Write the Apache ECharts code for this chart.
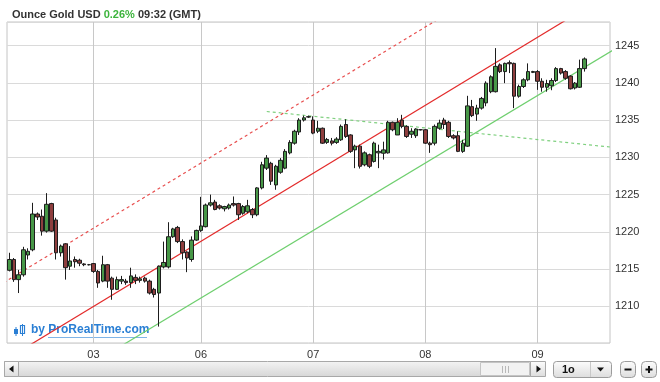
<!DOCTYPE html>
<html><head><meta charset="utf-8">
<script src="https://cdn.jsdelivr.net/npm/echarts@6/dist/echarts.min.js"></script>
<style>html,body{margin:0;padding:0;background:#fff}#c{width:660px;height:382px}</style>
</head><body><div id="c"></div>
<script>
// ---- data ----
const dayLabels = ['02','03','06','07','08','09'];
const dayFirstHour = [6,0,0,0,0,0];
const daySlots = [18,23,24,24,24,16];

const openP = [1214.85,1216.3,1213.6,1214.25,1216.9,1217.6,1222.4,1222.1,1220.1,1223.8,
1221.6,1217.2,1218.4,1215.4,1216.3,1216.2,1215.7,1215.6,1215.75,1214.7,
1213.4,1215.6,1213.8,1212.3,1213.4,1213.4,1213.2,1213.9,1213.5,1213.8,
1213.4,1212.3,1211.8,1215.3,1215.3,1219.35,1220.6,1218.7,1217.3,1216.3,
1218.9,1220.2,1220.7,1223.6,1224.0,1223.5,1223.1,1223.2,1223.8,1223.8,
1222.5,1222.7,1223.0,1222.3,1225.9,1228.55,1229.2,1226.3,1228.0,1228.55,
1230.6,1231.9,1233.4,1235.0,1235.45,1235.0,1233.5,1233.9,1232.0,1232.2,
1232.0,1232.35,1234.4,1233.0,1231.0,1231.5,1229.0,1230.35,1229.45,1230.6,
1230.55,1230.6,1234.7,1233.0,1235.0,1234.15,1233.1,1232.9,1233.7,1233.7,
1231.9,1231.9,1233.9,1235.0,1234.7,1232.9,1232.9,1230.8,1231.5,1236.8,
1235.8,1236.6,1237.3,1238.8,1238.8,1242.4,1241.5,1242.7,1242.6,1238.2,
1239.5,1240.4,1241.4,1241.5,1240.2,1239.4,1239.6,1240.3,1241.9,1241.5,
1240.9,1239.3,1239.4,1241.9];
const closeP = [1216.3,1213.6,1214.25,1217.6,1217.4,1222.4,1222.0,1220.1,1223.7,1220.1,
1217.2,1218.1,1215.2,1216.1,1216.0,1215.8,1215.6,1215.6,1214.7,1213.15,
1215.6,1213.4,1212.3,1213.6,1213.6,1213.2,1214.1,1213.5,1213.7,1213.4,
1211.8,1211.6,1215.4,1215.9,1219.35,1220.4,1218.7,1217.2,1216.5,1218.9,
1220.2,1220.8,1223.6,1223.9,1223.0,1223.2,1223.4,1223.6,1223.6,1222.3,
1223.4,1223.5,1222.3,1225.9,1229.0,1229.9,1226.8,1228.8,1229.6,1230.8,
1232.0,1233.5,1235.0,1235.3,1235.4,1233.25,1233.9,1231.9,1232.4,1231.9,
1232.45,1234.15,1232.8,1230.8,1231.5,1228.8,1230.6,1228.8,1231.9,1230.8,
1231.0,1234.7,1233.7,1234.7,1234.15,1232.8,1233.5,1233.8,1233.7,1231.9,
1231.7,1234.15,1234.6,1234.4,1232.8,1232.6,1230.8,1231.9,1236.9,1235.6,
1236.6,1237.9,1239.95,1240.8,1242.2,1241.5,1242.6,1242.55,1238.2,1239.5,
1240.4,1241.5,1241.5,1240.2,1239.4,1239.9,1240.3,1241.9,1241.3,1240.6,
1239.2,1239.95,1241.9,1243.2];
const lowP = [1214.7,1213.3,1211.8,1214.0,1216.3,1217.4,1221.6,1219.5,1219.9,1220.0,
1216.3,1216.7,1213.6,1214.9,1215.2,1215.4,1215.4,1215.5,1214.5,1212.5,
1213.25,1212.5,1210.9,1212.2,1213.0,1212.9,1212.5,1213.0,1213.2,1213.2,
1211.6,1211.2,1207.3,1215.1,1215.1,1219.2,1218.5,1216.3,1214.6,1216.0,
1218.8,1220.0,1220.6,1223.4,1222.9,1223.0,1222.75,1223.0,1223.4,1221.6,
1222.3,1222.5,1221.85,1222.1,1225.7,1228.3,1226.3,1225.65,1227.8,1228.4,
1230.4,1231.7,1233.0,1234.8,1235.3,1233.1,1233.25,1231.8,1231.8,1231.6,
1231.8,1232.2,1232.6,1230.6,1228.55,1228.5,1228.8,1228.55,1229.3,1228.55,
1229.7,1230.5,1233.5,1233.0,1233.9,1232.6,1232.6,1232.6,1233.6,1231.8,
1230.6,1231.6,1233.7,1233.8,1232.6,1232.4,1230.7,1230.6,1231.4,1235.4,
1234.9,1236.4,1236.85,1238.6,1238.7,1241.3,1239.95,1241.3,1236.6,1238.0,
1239.3,1240.2,1241.3,1239.05,1238.8,1238.8,1239.0,1240.1,1241.1,1240.4,
1239.1,1239.1,1239.3,1241.5];
const highP = [1217.2,1216.5,1214.9,1218.0,1217.8,1223.9,1222.6,1223.0,1225.2,1223.9,
1221.9,1218.3,1218.5,1218.1,1216.7,1216.4,1215.8,1215.7,1215.8,1214.9,
1216.8,1215.7,1214.0,1214.0,1214.1,1213.7,1215.2,1214.3,1214.0,1214.0,
1213.6,1212.5,1215.5,1218.7,1221.3,1220.55,1220.8,1219.0,1217.4,1219.4,
1220.3,1224.7,1223.8,1225.0,1224.3,1223.7,1223.5,1223.8,1224.75,1223.9,
1223.6,1224.3,1223.2,1226.0,1229.4,1230.3,1229.4,1229.0,1229.9,1231.1,
1232.3,1233.7,1235.25,1235.6,1235.6,1235.5,1234.9,1234.0,1232.6,1232.6,
1232.7,1234.4,1235.1,1233.1,1231.7,1231.7,1230.8,1230.5,1232.1,1231.7,
1232.1,1234.9,1234.8,1235.25,1235.7,1234.3,1233.9,1233.9,1233.8,1233.8,
1232.1,1234.4,1235.05,1235.3,1234.9,1233.1,1233.5,1232.35,1238.25,1237.7,
1237.05,1238.1,1240.2,1241.0,1244.65,1242.6,1242.7,1243.0,1242.7,1239.75,
1240.6,1242.6,1241.6,1241.7,1240.6,1240.4,1240.6,1242.1,1242.0,1241.7,
1241.0,1240.1,1243.1,1243.4];

// trend lines: [slot index, price] anchor points
const channelTop = [[-10, 1199.36], [140, 1256.36]];
const channelBottom = [[-10, 1191.91], [140, 1248.46]];
const channelUpper = [[-10, 1209.86], [140, 1266.86]];
const resistance = [[55.07, 1236.15], [135, 1230.96]];

const yMin = 1205.1, yMax = 1248.15;
const changePct = '0.26%';
const timeText = '09:32 (GMT)';

// ---- build ----
const categories = [];
const dayStarts = new Set();
dayLabels.forEach((d, di) => {
  for (let k = 0; k < daySlots[di]; k++) {
    if (k === 0 && di > 0) dayStarts.add(categories.length);
    categories.push(d + ' ' + String(dayFirstHour[di] + k).padStart(2, '0') + 'h');
  }
});
const N = categories.length;
const candles = openP.map((o, i) => [o, closeP[i], lowP[i], highP[i]]);
const lastClose = closeP[closeP.length - 1];
const isDayStart = (idx) => dayStarts.has(idx);
const FONT = "'Liberation Sans', Arial, sans-serif";
const G = echarts.graphic;
const btnFill = () => new G.LinearGradient(0, 0, 0, 1, [{offset: 0, color: '#fdfdfd'}, {offset: 1, color: '#dcdcdc'}]);

const chart = echarts.init(document.getElementById('c'), null, {renderer: 'canvas'});
const lineSeries = (data, color, type) => ({
  type: 'line', xAxisIndex: 1, yAxisIndex: 0, data: data, symbol: 'none', silent: true,
  lineStyle: {color: color, width: 1.2, type: type}, clip: true, z: 3
});

chart.setOption({
  animation: false,
  textStyle: {fontFamily: FONT},
  title: {
    left: 7, top: 4,
    text: '{a|Ounce Gold USD }{b|' + changePct + '}{a| ' + timeText + '}',
    textStyle: {rich: {
      a: {fontSize: 11, color: '#333', fontFamily: FONT},
      b: {fontSize: 11, color: '#3cb43c', fontFamily: FONT}
    }}
  },
  grid: {left: 7, right: 50, top: 22, bottom: 39, show: true, borderColor: '#c4c4c4', borderWidth: 1, backgroundColor: '#fff'},
  xAxis: [{
    type: 'category', data: categories, boundaryGap: true,
    axisLine: {show: false}, axisTick: {show: false},
    axisLabel: {interval: isDayStart, formatter: v => v.slice(0, 2), color: '#333', fontSize: 11, margin: 6, fontFamily: FONT},
    splitLine: {show: true, interval: isDayStart, alignWithLabel: true, lineStyle: {color: '#c8c8c8', width: 1}}
  }, {
    type: 'value', min: -0.5, max: N - 0.5, show: false
  }],
  yAxis: [{
    type: 'value', position: 'right', min: yMin, max: yMax, splitNumber: 8, scale: true,
    axisLine: {show: false}, axisTick: {show: false},
    axisLabel: {showMinLabel: false, showMaxLabel: false, color: '#333', fontSize: 11, margin: 5, fontFamily: FONT,
      formatter: v => (Math.abs(v - Math.round(v / 5) * 5) < 1e-6 ? String(Math.round(v)) : '')},
    splitLine: {show: true, lineStyle: {color: '#dadada', width: 1}}
  }],
  series: [
    lineSeries(channelUpper, '#e85050', [3, 3]),
    lineSeries(channelTop, '#e32b2b', 'solid'),
    lineSeries(channelBottom, '#6fcf6f', 'solid'),
    lineSeries(resistance, '#7fd07f', [3, 3]),
    {
      type: 'candlestick', xAxisIndex: 0, yAxisIndex: 0, data: candles, barWidth: 4, z: 4,
      itemStyle: {color: '#479747', color0: '#8e3e3e', borderColor: '#1d1d1d', borderColor0: '#1d1d1d', borderWidth: 1},
      markLine: {
        silent: true, symbol: ['none', 'none'], animation: false,
        lineStyle: {opacity: 0},
        data: [{yAxis: lastClose}],
        label: {show: true, position: 'end', distance: 2, formatter: p => p.value.toFixed(1),
          backgroundColor: '#f7c400', borderColor: '#d39e00', borderWidth: 1, padding: [2, 3, 1, 3],
          color: '#222', fontSize: 11, fontFamily: FONT}
      }
    }
  ],
  graphic: [
    // watermark
    {type: 'group', x: 14, y: 324, z: 10, silent: true, children: [
      {type: 'rect', shape: {x: 0, y: 5, width: 4, height: 5}, style: {fill: '#2a7fd4'}},
      {type: 'line', shape: {x1: 2, y1: 3, x2: 2, y2: 12}, style: {stroke: '#2a7fd4', lineWidth: 1}},
      {type: 'rect', shape: {x: 6.5, y: 1.5, width: 4, height: 8}, style: {fill: '#fff', stroke: '#2a7fd4', lineWidth: 1.2}},
      {type: 'line', shape: {x1: 8.5, y1: 0, x2: 8.5, y2: 12}, style: {stroke: '#2a7fd4', lineWidth: 1}},
      {type: 'text', x: 17, y: 0, style: {text: 'by ProRealTime.com', fill: '#2a7fd4', font: "bold 12px 'Liberation Sans', Arial, sans-serif"}},
      {type: 'line', shape: {x1: 34, y1: 13.5, x2: 133, y2: 13.5}, style: {stroke: '#7fb5e8', lineWidth: 1}}
    ]},
    // scrollbar / controls
    {type: 'group', x: 0, y: 0, silent: true, children: [
      {type: 'rect', shape: {x: 4.5, y: 361.5, width: 526, height: 15},
        style: {fill: new G.LinearGradient(0, 0, 0, 1, [{offset: 0, color: '#f4f4f4'}, {offset: 1, color: '#d6d6d6'}]), stroke: '#a8a8a8'}},
      {type: 'rect', shape: {x: 4.5, y: 361.5, width: 14, height: 15}, style: {fill: btnFill(), stroke: '#a8a8a8'}},
      {type: 'polygon', shape: {points: [[9, 369], [13.5, 365.5], [13.5, 372.5]]}, style: {fill: '#111'}},
      {type: 'rect', shape: {x: 480.5, y: 362.5, width: 49, height: 13}, style: {fill: '#f2f2f2', stroke: '#c4c4c4'}},
      {type: 'line', shape: {x1: 502.5, y1: 366, x2: 502.5, y2: 373}, style: {stroke: '#b8b8b8'}},
      {type: 'line', shape: {x1: 505.5, y1: 366, x2: 505.5, y2: 373}, style: {stroke: '#b8b8b8'}},
      {type: 'line', shape: {x1: 508.5, y1: 366, x2: 508.5, y2: 373}, style: {stroke: '#b8b8b8'}},
      {type: 'rect', shape: {x: 530.5, y: 361.5, width: 15, height: 15}, style: {fill: btnFill(), stroke: '#a8a8a8'}},
      {type: 'polygon', shape: {points: [[541, 369], [536.5, 365.5], [536.5, 372.5]]}, style: {fill: '#111'}},
      {type: 'rect', shape: {x: 553.5, y: 361.5, width: 58, height: 16, r: 3}, style: {fill: btnFill(), stroke: '#9c9c9c'}},
      {type: 'text', x: 562, y: 364, style: {text: '1o', fill: '#111', font: "bold 11px 'Liberation Sans', Arial, sans-serif"}},
      {type: 'line', shape: {x1: 590.5, y1: 362, x2: 590.5, y2: 377}, style: {stroke: '#c8c8c8'}},
      {type: 'polygon', shape: {points: [[597, 367.5], [604, 367.5], [600.5, 371.5]]}, style: {fill: '#111'}},
      {type: 'rect', shape: {x: 620.5, y: 361.5, width: 15, height: 16, r: 4}, style: {fill: btnFill(), stroke: '#9c9c9c'}},
      {type: 'line', shape: {x1: 624.5, y1: 369.5, x2: 631.5, y2: 369.5}, style: {stroke: '#111', lineWidth: 2}},
      {type: 'rect', shape: {x: 641.5, y: 361.5, width: 15, height: 16, r: 4}, style: {fill: btnFill(), stroke: '#9c9c9c'}},
      {type: 'line', shape: {x1: 645.5, y1: 369.5, x2: 652.5, y2: 369.5}, style: {stroke: '#111', lineWidth: 2}},
      {type: 'line', shape: {x1: 649, y1: 366, x2: 649, y2: 373}, style: {stroke: '#111', lineWidth: 2}}
    ]}
  ]
});
</script></body></html>
